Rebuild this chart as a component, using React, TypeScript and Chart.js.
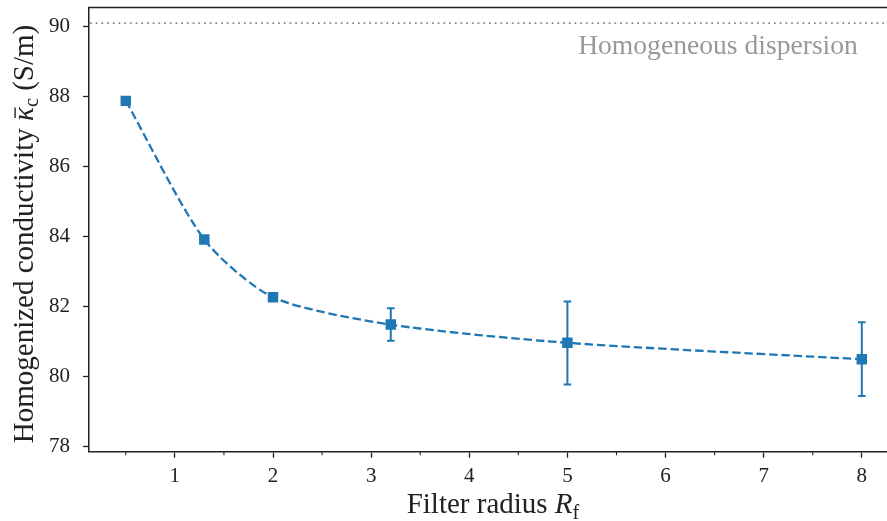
import React, { useEffect, useRef } from 'react';
import { Chart, registerables } from 'chart.js';

Chart.register(...registerables);

// ---- data ----
const FILTER_RADIUS = [0.5, 1.3, 2, 3.2, 5, 8];
const CONDUCTIVITY = [87.88, 83.92, 82.27, 81.49, 80.97, 80.5];
const ERR_LOW: (number | null)[] = [null, null, null, 81.03, 79.78, 79.45];
const ERR_HIGH: (number | null)[] = [null, null, null, 81.96, 82.15, 81.56];
const HOMOGENEOUS = 90.1;
const HOMOGENEOUS_LABEL = 'Homogeneous dispersion';
const X_TICKS = [1, 2, 3, 4, 5, 6, 7, 8];
const X_MINOR_TICKS = [0.5, 1.5, 2.5, 3.5, 4.5, 5.5, 6.5, 7.5];
const Y_TICKS = [78, 80, 82, 84, 86, 88, 90];

const BLUE = '#1f77b4';
const AXIS = '#222222';
const FONT = "'Liberation Serif', 'DejaVu Serif', serif";

type Seg = { t: string; italic?: boolean; sub?: boolean; bar?: boolean };

function drawSegments(ctx: CanvasRenderingContext2D, segs: Seg[], size: number) {
  const fontFor = (s: Seg) => `${s.italic ? 'italic ' : ''}${s.sub ? size * 0.7 : size}px ${FONT}`;
  let total = 0;
  const widths = segs.map((s) => {
    ctx.font = fontFor(s);
    const w = ctx.measureText(s.t).width;
    total += w;
    return w;
  });
  let x = -total / 2;
  segs.forEach((s, i) => {
    ctx.font = fontFor(s);
    ctx.fillText(s.t, x, s.sub ? size * 0.2 : 0);
    if (s.bar) {
      const w = widths[i];
      ctx.save();
      ctx.strokeStyle = ctx.fillStyle as string;
      ctx.lineWidth = 1.4;
      ctx.beginPath();
      ctx.moveTo(x + w * 0.22, -size * 0.6);
      ctx.lineTo(x + w * 0.98, -size * 0.6);
      ctx.stroke();
      ctx.restore();
    }
    x += widths[i];
  });
}

const decorPlugin = {
  id: 'decor',
  beforeDatasetsDraw(chart: any) {
    const { ctx, chartArea, scales } = chart;
    const y = scales.y.getPixelForValue(HOMOGENEOUS);
    ctx.save();
    ctx.strokeStyle = '#8c8c8c';
    ctx.lineWidth = 1.8;
    ctx.setLineDash([1.8, 3.9]);
    ctx.beginPath();
    ctx.moveTo(chartArea.left + 1, y);
    ctx.lineTo(chartArea.right, y);
    ctx.stroke();
    ctx.restore();

    ctx.save();
    ctx.fillStyle = '#999999';
    ctx.font = `27.6px ${FONT}`;
    ctx.textAlign = 'right';
    ctx.textBaseline = 'alphabetic';
    ctx.fillText(HOMOGENEOUS_LABEL, scales.x.getPixelForValue(7.96), scales.y.getPixelForValue(89.21));
    ctx.restore();
  },
  afterDatasetsDraw(chart: any) {
    const { ctx, scales } = chart;
    ctx.save();
    ctx.strokeStyle = BLUE;
    ctx.lineWidth = 2;
    ctx.setLineDash([]);
    FILTER_RADIUS.forEach((xv, i) => {
      const lo = ERR_LOW[i];
      const hi = ERR_HIGH[i];
      if (lo == null || hi == null) return;
      const x = scales.x.getPixelForValue(xv);
      const y1 = scales.y.getPixelForValue(lo);
      const y2 = scales.y.getPixelForValue(hi);
      ctx.beginPath();
      ctx.moveTo(x, y1);
      ctx.lineTo(x, y2);
      ctx.moveTo(x - 3.8, y1);
      ctx.lineTo(x + 3.8, y1);
      ctx.moveTo(x - 3.8, y2);
      ctx.lineTo(x + 3.8, y2);
      ctx.stroke();
    });
    ctx.restore();
  },
  afterDraw(chart: any) {
    const { ctx, chartArea, scales } = chart;
    ctx.save();
    // top spine
    ctx.strokeStyle = AXIS;
    ctx.lineWidth = 1.5;
    ctx.beginPath();
    ctx.moveTo(chartArea.left - 0.75, chartArea.top);
    ctx.lineTo(chart.width, chartArea.top);
    ctx.stroke();
    // minor ticks
    ctx.lineWidth = 1.1;
    X_MINOR_TICKS.forEach((v) => {
      const x = scales.x.getPixelForValue(v);
      ctx.beginPath();
      ctx.moveTo(x, chartArea.bottom);
      ctx.lineTo(x, chartArea.bottom + 3.5);
      ctx.stroke();
    });
    ctx.restore();

    // axis titles
    ctx.save();
    ctx.fillStyle = AXIS;
    ctx.textAlign = 'left';
    ctx.textBaseline = 'alphabetic';
    ctx.translate(493, 513);
    drawSegments(ctx, [{ t: 'Filter radius ' }, { t: 'R', italic: true }, { t: 'f', sub: true }], 29);
    ctx.restore();

    ctx.save();
    ctx.fillStyle = AXIS;
    ctx.textAlign = 'left';
    ctx.textBaseline = 'alphabetic';
    ctx.translate(32.5, 234);
    ctx.rotate(-Math.PI / 2);
    drawSegments(
      ctx,
      [
        { t: 'Homogenized conductivity ' },
        { t: 'κ', italic: true, bar: true },
        { t: 'c', sub: true },
        { t: ' (S/m)' },
      ],
      29
    );
    ctx.restore();
  },
};

export default function App() {
  const ref = useRef<HTMLCanvasElement | null>(null);
  useEffect(() => {
    if (!ref.current) return;
    const chart = new Chart(ref.current, {
      type: 'line',
      data: {
        datasets: [
          {
            data: FILTER_RADIUS.map((x, i) => ({ x, y: CONDUCTIVITY[i] })),
            borderColor: BLUE,
            backgroundColor: BLUE,
            borderWidth: 2.3,
            borderDash: [8.5, 3.8],
            tension: 0.25,
            pointStyle: 'rect',
            pointRadius: 7.4,
            pointBorderWidth: 0,
            pointBackgroundColor: BLUE,
            fill: false,
          },
        ],
      },
      options: {
        animation: false,
        responsive: true,
        maintainAspectRatio: false,
        layout: { padding: { left: 0, right: 0, top: 5, bottom: 0 } },
        plugins: { legend: { display: false }, tooltip: { enabled: false } },
        scales: {
          x: {
            type: 'linear',
            min: 0.125,
            max: 8.375,
            afterBuildTicks: (s: any) => {
              s.ticks = X_TICKS.map((v) => ({ value: v }));
            },
            afterFit: (s: any) => {
              s.height = 69.3;
              s.paddingLeft = 0;
              s.paddingRight = 0;
              s.paddingTop = 0;
              s.paddingBottom = 0;
            },
            grid: {
              display: true,
              drawOnChartArea: false,
              drawTicks: true,
              tickLength: 6,
              tickColor: AXIS,
              tickWidth: 1.3,
            },
            border: { display: true, color: AXIS, width: 1.5 },
            ticks: {
              font: { family: FONT, size: 21 },
              color: AXIS,
              padding: 6,
              maxRotation: 0,
              autoSkip: false,
              callback: (v: any) => String(v),
            },
          },
          y: {
            type: 'linear',
            min: 77.86,
            max: 90.55,
            afterBuildTicks: (s: any) => {
              s.ticks = Y_TICKS.map((v) => ({ value: v }));
            },
            afterFit: (s: any) => {
              s.width = 89;
              s.paddingLeft = 0;
              s.paddingRight = 0;
              s.paddingTop = 0;
              s.paddingBottom = 0;
            },
            grid: {
              display: true,
              drawOnChartArea: false,
              drawTicks: true,
              tickLength: 6,
              tickColor: AXIS,
              tickWidth: 1.3,
            },
            border: { display: true, color: AXIS, width: 1.5 },
            ticks: {
              font: { family: FONT, size: 21 },
              color: AXIS,
              padding: 13,
              autoSkip: false,
              callback: (v: any) => String(v),
            },
          },
        },
      },
      plugins: [decorPlugin],
    } as any);
    return () => chart.destroy();
  }, []);

  return (
    <div
      style={{
        position: 'fixed',
        left: 0,
        top: 0,
        width: 887,
        height: 521,
        overflow: 'hidden',
        background: '#fff',
      }}
    >
      <div style={{ position: 'relative', width: 906, height: 521 }}>
        <canvas ref={ref} />
      </div>
    </div>
  );
}
